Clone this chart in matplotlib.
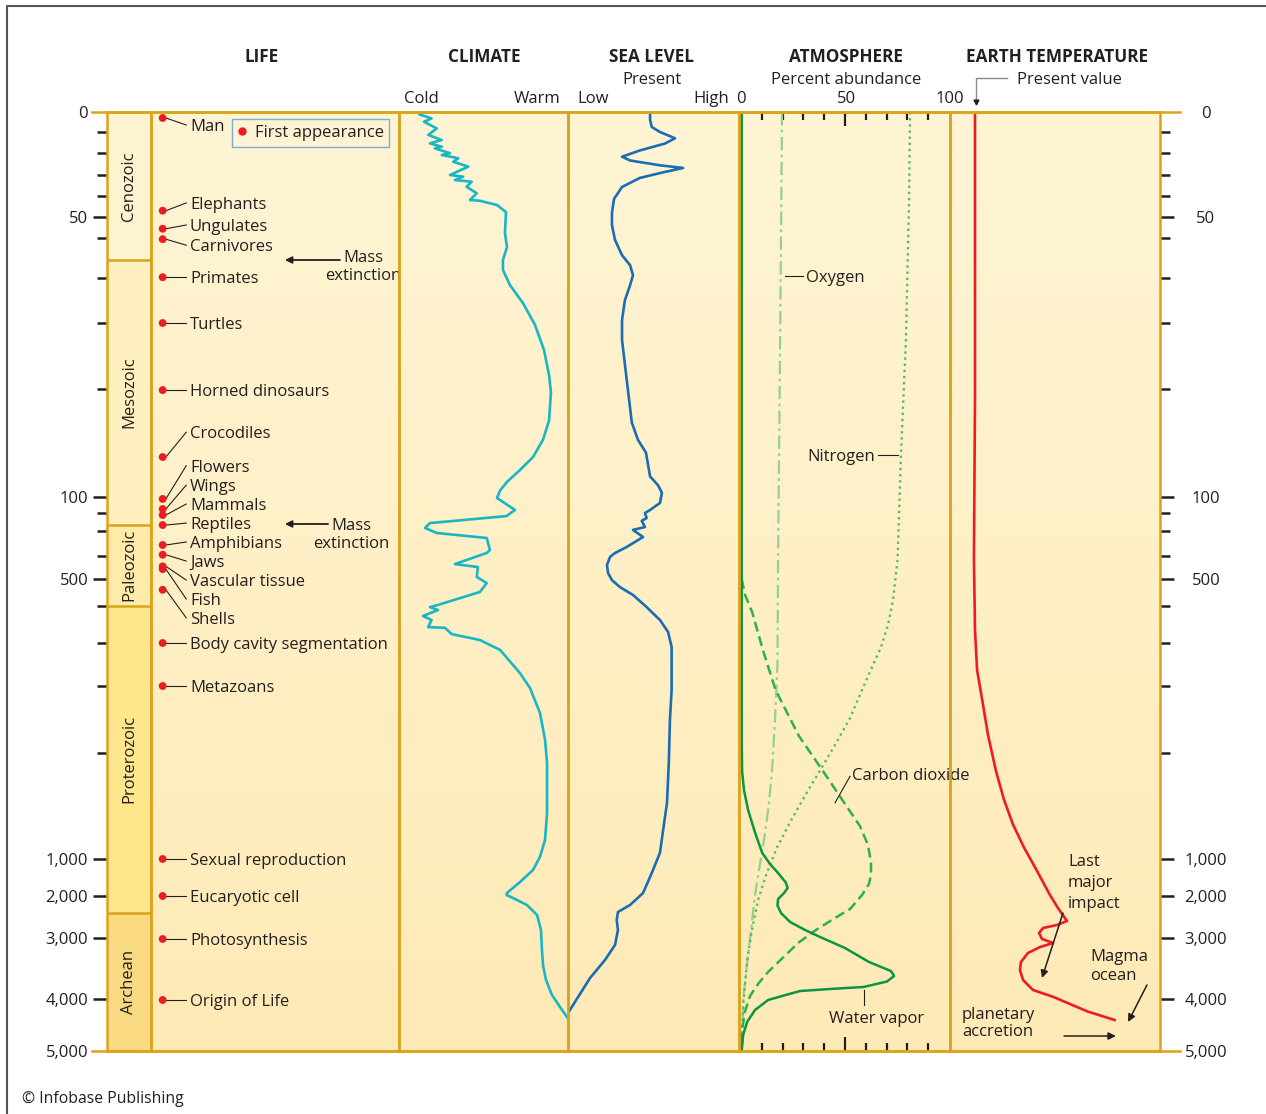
import matplotlib.pyplot as plt
import numpy as np
from matplotlib.lines import Line2D
import matplotlib.transforms as mtransforms

plt.rcParams['font.family'] = ['Open Sans', 'DejaVu Sans']

# ---- time axis (million years ago) ----
tick_ages = [0, 10, 20, 30, 40, 50, 60, 70, 80, 90, 100, 200, 300, 400, 500,
             600, 700, 800, 900, 1000, 2000, 3000, 4000, 5000]
labelled_ages = [0, 50, 100, 500, 1000, 2000, 3000, 4000, 5000]

# eras
era_names = ["Cenozoic", "Mesozoic", "Paleozoic", "Proterozoic", "Archean"]
era_start = [0, 65.5, 265, 600, 2400]
era_end = [65.5, 265, 600, 2400, 5000]

# life: first appearances
life_events = ["Man", "Elephants", "Ungulates", "Carnivores", "Primates", "Turtles",
               "Horned dinosaurs", "Crocodiles", "Flowers", "Wings", "Mammals",
               "Reptiles", "Amphibians", "Jaws", "Vascular tissue", "Fish", "Shells",
               "Body cavity segmentation", "Metazoans", "Sexual reproduction",
               "Eucaryotic cell", "Photosynthesis", "Origin of Life"]
life_age = [3, 47, 55.6, 60.3, 69.8, 80, 90.1, 96.3, 112, 175, 211, 267, 356, 395,
            445, 457, 540, 700, 800, 1000, 2000, 3016, 4019]
life_label_age = [6.5, 43.3, 53.8, 61.8, 69.8, 80, 90.1, 94, 97.1, 98.9, 144, 256,
                  344, 422, 504, 574, 632, 700, 800, 1000, 2000, 3016, 4019]
mass_extinction_age = [65.5, 261]

# climate (0 = cold, 100 = warm)
climate_age = [0, 1.2, 3.2, 4.9, 8.2, 11.4, 13.8, 15.4, 17, 17.8, 20.1, 20.9, 22.4, 24,
               26.2, 30, 30.8, 32.4, 33.2, 35.6, 38.7, 41.9, 42.3, 44.3, 47.6, 57.6,
               62.3, 65.5, 68, 71.6, 75.6, 80.3, 84.1, 87.9, 90.3, 92.9, 94.7, 96.3,
               97.5, 98.6, 99.4, 106, 181, 217, 256, 283, 308, 328, 376, 388, 435, 448,
               491, 515, 548, 596, 603, 611, 627, 638, 657, 659, 676, 692, 716, 770,
               803, 840, 880, 909, 957, 982, 998, 1297, 1622, 1919, 1973, 2071, 2214,
               2452, 2810, 3197, 3443, 3689, 3934, 4154, 4365]
climate_val = [14.4, 12, 19.3, 14.8, 22.3, 17.3, 25.3, 18.3, 25.3, 21.3, 30.2, 25.3,
               35.1, 32.1, 41, 30.2, 38, 33.1, 43, 40, 46, 42, 48, 58, 63.3, 62.7, 63.9,
               61.5, 61.5, 65.7, 73.4, 80.5, 85.8, 88.8, 89.9, 88.8, 85.2, 79.3, 71.6,
               63.9, 59.8, 58, 68.6, 63.7, 18.3, 15.4, 22.3, 51.9, 53.8, 51.9, 33.1,
               46.7, 46, 51.9, 47.9, 23.1, 18.3, 23.1, 14.2, 19.3, 17.2, 27.2, 31.2,
               47.9, 59.8, 71.6, 77.5, 83.4, 86.4, 87.6, 87.6, 86.4, 83.4, 79.3, 71.6,
               63.9, 63.7, 68.6, 75.7, 81.7, 84, 84.6, 85.2, 87, 90.5, 95.3, 99.8]

# sea level (0 = low, 100 = high)
sea_age = [0, 4, 7.5, 10, 13, 15.5, 18.8, 21.7, 23.4, 25.6, 26.8, 28.6, 31.4, 35.7,
           41.4, 48.1, 53.8, 60.5, 64.3, 66.8, 69.3, 71.6, 74.9, 79.3, 82.6, 93.1, 94.7,
           95.9, 97, 98.1, 98.9, 99.6, 137, 181, 200, 228, 243, 278, 294, 324, 364, 388,
           404, 439, 474, 504, 530, 559, 603, 638, 670, 709, 806, 851, 907, 947, 973,
           994, 1378, 1919, 2214, 2381, 2571, 2810, 3115, 3361, 3656, 4270]
sea_val = [48, 48, 49, 53.8, 62.6, 56.7, 42, 31.6, 36.3, 53.8, 67.3, 56.7, 42, 31.6,
           26.9, 25.7, 25.7, 27.5, 31.6, 36.3, 38, 36.3, 33.3, 31.6, 31.6, 37.3, 40.9,
           45.6, 46.8, 48, 52.6, 54.9, 53.8, 48, 45, 46, 43.1, 45, 38, 43.9, 34.3, 27.5,
           24.6, 22.8, 23.4, 25.7, 30.4, 38, 46, 53.8, 58.5, 60.6, 60.6, 59.6, 59,
           57.9, 55.6, 53.8, 49, 43.9, 36.3, 29.2, 28.5, 29.2, 27.5, 21.6, 12.9, 0]

# atmosphere, percent abundance
water_age = [0, 881, 917, 935, 954, 975, 994, 1135, 1378, 1635, 1784, 1919, 2071, 2226,
             2405, 2619, 2810, 2976, 3164, 3393, 3541, 3623, 3713, 3803, 3836, 3869,
             3951, 4019, 4212, 4442, 4692, 5000]
water_pct = [0.3, 0.3, 0.5, 1.4, 3.4, 6.7, 10.1, 13.9, 17.8, 21.5, 22.4, 20.7, 17.8,
             17.5, 19.2, 23.6, 30.8, 38, 50, 61.5, 72.1, 73.6, 70.2, 58.9, 42.8, 28.4,
             19.7, 13, 6.7, 2.9, 1, 0.3]
co2_age = [500, 559, 616, 718, 806, 875, 917, 951, 969, 987, 1108, 1432, 1676, 1973,
           2310, 2524, 2810, 3082, 3336, 3557, 3738, 3951, 4240, 4596, 5000]
co2_pct = [0.3, 1.9, 5.3, 10.6, 16.6, 27.9, 39.4, 51, 57.2, 61.1, 62.5, 62.5, 61.5,
           58.2, 52.4, 45.2, 36, 27.4, 19.7, 13, 8.5, 4.3, 1.9, 0.5, 0.3]
nitrogen_age = [0, 42, 82.6, 96.1, 413, 578, 651, 711, 767, 813, 848, 888, 917, 940,
                967, 991, 1486, 2095, 2810, 3361, 4038, 5000]
nitrogen_pct = [81.3, 80.8, 79.3, 76.9, 75.3, 73.1, 70.7, 67.2, 62, 57.2, 52.4, 45.2,
                37.8, 30.8, 23.1, 16.8, 11.7, 8.2, 5.2, 2.9, 1.2, 0]
oxygen_age = [0, 82.6, 413, 751, 851, 917, 954, 984, 1297, 1973, 2810, 3450, 4019, 5000]
oxygen_pct = [19.7, 18.8, 17.8, 17.5, 16.3, 14.9, 13, 10.9, 8.6, 6.7, 4.8, 2.8, 1, 0.3]

# earth temperature (relative)
temp_age = [0, 91, 413, 665, 763, 822, 873, 917, 944, 967, 989, 1297, 1973, 2286, 2595,
            2690, 2762, 2881, 3016, 3082, 3148, 3246, 3393, 3525, 3689, 3852, 3967,
            4096, 4240, 4404]
temp_val = [11.9, 11.9, 11.4, 11.9, 12.9, 15.4, 18.1, 21.9, 25.7, 29.9, 35.2, 41.2,
            47.6, 51.4, 55.7, 51, 44.3, 42.4, 43.8, 49.1, 42.9, 37.1, 33.8, 33.3, 34.8,
            39.5, 49.3, 57.1, 65.5, 78.4]

# ---- layout / style ----
W, H = 1266, 1114
TOP, BOT = 112, 1051
# vertical offset (px from top) of every tick on the distorted time scale
tick_pos = [0, 20, 41, 63, 84, 105, 126, 166, 211, 277, 385, 401, 419, 444, 467,
            494, 531, 574, 641, 747, 784, 826, 887, 939]

GOLD = '#DCA21A'
INK = '#231F20'
RED = '#EC1C24'
FS = 12
era_colors = ['#FEF3CF', '#FEF0BF', '#FEEBA9', '#FEE68C', '#F9D982']


def fwd(a):
    a = np.asarray(a, float)
    out = np.interp(a, tick_ages, tick_pos)
    out = np.where(a < 0, a * 2.0, out)
    return np.where(a > 5000, 939 + (a - 5000) * 0.052, out)


def inv(p):
    p = np.asarray(p, float)
    out = np.interp(p, tick_pos, tick_ages)
    out = np.where(p < 0, p / 2.0, out)
    return np.where(p > 939, 5000 + (p - 939) / 0.052, out)


def fx(px):
    return px / W


def fy(py):
    return 1 - py / H


fig = plt.figure(figsize=(W / 100, H / 100), dpi=100)


def panel(x0, x1, share=None):
    return fig.add_axes([fx(x0), fy(BOT), (x1 - x0) / W, (BOT - TOP) / H],
                        sharey=share)


# background gradient
bg = panel(151, 1160)
grad = np.linspace(0, 1, 256)[:, None]
c_top = np.array([254, 245, 213]) / 255
c_bot = np.array([254, 234, 182]) / 255
img = c_top[None, None, :] * (1 - grad[:, :, None]) + c_bot[None, None, :] * grad[:, :, None]
bg.imshow(img, extent=[0, 1, 0, 1], aspect='auto')
bg.set_xlim(0, 1)
bg.set_ylim(0, 1)
bg.axis('off')

ax_era = panel(107, 151)
ax_era.set_yscale('function', functions=(fwd, inv))
ax_era.set_ylim(5000, 0)
ax_life = panel(151, 399, ax_era)
ax_clim = panel(399, 568, ax_era)
ax_sea = panel(568, 739, ax_era)
ax_atm = panel(739, 950, ax_era)
ax_temp = panel(950, 1160, ax_era)

for ax in [ax_era, ax_life, ax_clim, ax_sea, ax_atm, ax_temp]:
    ax.set_facecolor('none')
    for s in ax.spines.values():
        s.set_color(GOLD)
        s.set_linewidth(1.8)
    ax.tick_params(axis='both', which='both', left=False, right=False, top=False,
                   bottom=False, labelleft=False, labelbottom=False)

# ---- era column ----
ax_era.set_xlim(0, 1)
for name, a0, a1, col in zip(era_names, era_start, era_end, era_colors):
    ax_era.axhspan(a0, a1, color=col, lw=0, zorder=0)
    if a1 < 5000:
        ax_era.axhline(a1, color=GOLD, lw=1.8)
    mid = inv((fwd(a0) + fwd(a1)) / 2)
    ax_era.text(0.5, float(mid), name, rotation=90, ha='center', va='center',
                fontsize=FS, color=INK)

minor_ages = [a for a in tick_ages if a not in labelled_ages]
tick_text = [f"{a:,}" for a in labelled_ages]
for ax, side in [(ax_era, 'left'), (ax_temp, 'right')]:
    ax.yaxis.set_major_locator(plt.FixedLocator(labelled_ages))
    ax.yaxis.set_minor_locator(plt.FixedLocator(minor_ages))
    ax.yaxis.set_ticks_position(side)
    ax.set_yticklabels(tick_text)
    ax.tick_params(axis='y', which='major', length=10, width=1.8, color=INK,
                   labelsize=FS, labelcolor=INK, direction='out',
                   left=(side == 'left'), right=(side == 'right'),
                   labelleft=(side == 'left'), labelright=(side == 'right'),
                   pad=3.5 if side == 'left' else 23)
    ax.tick_params(axis='y', which='minor', length=7.5, width=1.8, color=INK,
                   direction='out', left=(side == 'left'), right=(side == 'right'))
    for t in (ax.yaxis.get_major_ticks()[0], ax.yaxis.get_major_ticks()[-1]):
        t.tick1line.set_visible(False)
        t.tick2line.set_visible(False)
    if side == 'right':
        for lab in ax.get_yticklabels():
            lab.set_ha('center')

# ---- life ----
ax_life.set_xlim(0, 1)
ax_life.scatter([0.047] * len(life_age), life_age, s=32, color=RED, zorder=3,
                edgecolors='none')
for name, a, la in zip(life_events, life_age, life_label_age):
    ax_life.plot([0.06, 0.142], [a, la], color=INK, lw=0.8)
    ax_life.annotate(name, xy=(0.157, la), xytext=(0, -1.6), textcoords='offset points',
                     ha='left', va='center', fontsize=FS, color=INK)

leg = ax_life.legend(handles=[Line2D([0], [0], marker='o', ls='none', color=RED,
                                     markersize=5)],
                     labels=['First appearance'], loc='upper left',
                     bbox_to_anchor=(0.327, 0.9925), frameon=True, fancybox=False,
                     edgecolor='#5B9BD5', facecolor='none', fontsize=FS,
                     handlelength=0.5, handletextpad=0.5, borderpad=0.35,
                     borderaxespad=0)
leg.get_frame().set_linewidth(1.0)
for t in leg.get_texts():
    t.set_color(INK)

blend_life = mtransforms.blended_transform_factory(ax_life.transAxes, ax_life.transData)
for a, tail, head, tx, ty in [(mass_extinction_age[0], 0.762, 0.540, 0.855, 67.2),
                              (mass_extinction_age[1], 0.714, 0.540, 0.808, 315)]:
    ax_life.annotate('', xy=(head, a), xytext=(tail, a), xycoords=blend_life,
                     arrowprops=dict(arrowstyle='-|>', color=INK, lw=1.3,
                                     mutation_scale=10, shrinkA=0, shrinkB=0))
    ax_life.text(tx, ty, 'Mass\nextinction', ha='center', va='center',
                 fontsize=FS, color=INK, linespacing=1.2)

# ---- climate ----
ax_clim.set_xlim(0, 100)
ax_clim.plot(climate_val, climate_age, color='#1AB6C6', lw=1.9, solid_joinstyle='round')

# ---- sea level ----
ax_sea.set_xlim(0, 100)
ax_sea.plot(sea_val, sea_age, color='#1A6DB5', lw=1.9, solid_joinstyle='round')

# ---- atmosphere ----
ax_atm.set_xlim(-1, 100.5)
ax_atm.plot(oxygen_pct, oxygen_age, color='#93D092', lw=1.6, ls=(0, (6, 2, 1.2, 2)))
ax_atm.plot(nitrogen_pct, nitrogen_age, color='#5DBB5F', lw=1.7, ls=(0, (1, 1.6)))
ax_atm.plot(co2_pct, co2_age, color='#2EB04B', lw=1.8, ls=(0, (4, 2)))
ax_atm.plot(water_pct, water_age, color='#0B9444', lw=1.8, solid_joinstyle='round')
ax_atm.xaxis.set_major_locator(plt.FixedLocator([50]))
ax_atm.xaxis.set_minor_locator(plt.FixedLocator([10, 20, 30, 40, 60, 70, 80, 90]))
ax_atm.tick_params(axis='x', which='major', direction='in', length=10, width=1.6,
                   color=INK, top=True, bottom=True, labeltop=False, labelbottom=False)
ax_atm.tick_params(axis='x', which='minor', direction='in', length=6, width=1.6,
                   color=INK, top=True, bottom=True)
ax_atm.text(31.3, 70, 'Oxygen', ha='left', va='center', fontsize=FS, color=INK)
ax_atm.plot([21.2, 29.8], [69.5, 69.5], color=INK, lw=0.8)
ax_atm.text(64.4, 96.3, 'Nitrogen', ha='right', va='center', fontsize=FS, color=INK)
ax_atm.plot([65.9, 75.5], [96.1, 96.1], color=INK, lw=0.8)
ax_atm.text(53.4, 922, 'Carbon dioxide', ha='left', va='center', fontsize=FS,
            color=INK)
ax_atm.plot([45.2, 52.4], [947, 922], color=INK, lw=0.8)
ax_atm.text(42.3, 4380, 'Water vapor', ha='left', va='center', fontsize=FS, color=INK)
ax_atm.plot([59.1, 59.1], [3852, 4115], color=INK, lw=0.8)

# ---- earth temperature ----
ax_temp.set_xlim(0, 100)
ax_temp.plot(temp_val, temp_age, color=RED, lw=1.9, solid_joinstyle='round')
arrow = dict(arrowstyle='-|>', color=INK, lw=1.1, mutation_scale=11, shrinkA=0,
             shrinkB=0)
ax_temp.text(56.2, 1650, 'Last\nmajor\nimpact', ha='left', va='center', fontsize=FS,
             color=INK, linespacing=1.42)
ax_temp.annotate('', xy=(43.8, 3656), xytext=(53.8, 2405), arrowprops=arrow)
ax_temp.text(66.7, 3470, 'Magma\nocean', ha='left', va='center', fontsize=FS,
             color=INK, linespacing=1.25)
ax_temp.annotate('', xy=(84.8, 4442), xytext=(93.8, 3770), arrowprops=arrow)
ax_temp.text(5.7, 4470, 'planetary\naccretion', ha='left', va='center', fontsize=FS,
             color=INK, linespacing=1.05)
ax_temp.annotate('', xy=(79, 4712), xytext=(54.3, 4712), arrowprops=arrow)

# ---- headers ----
for px, txt in [(262, 'LIFE'), (484, 'CLIMATE'), (652, 'SEA LEVEL'),
                (846, 'ATMOSPHERE'), (1057, 'EARTH TEMPERATURE')]:
    fig.text(fx(px), fy(57), txt, ha='center', va='center', fontsize=12.3,
             fontweight='bold', color=INK)
for px, py, txt in [(421, 99, 'Cold'), (537, 99, 'Warm'), (593, 99, 'Low'),
                    (652, 80, 'Present'), (711, 99, 'High'), (741, 99, '0'),
                    (846, 80, 'Percent abundance'), (846, 99, '50'), (950, 99, '100')]:
    fig.text(fx(px), fy(py), txt, ha='center', va='center', fontsize=FS, color=INK)
fig.text(fx(1017), fy(80), 'Present value', ha='left', va='center', fontsize=FS,
         color=INK)
fig.add_artist(Line2D([fx(1007), fx(976), fx(976)], [fy(78), fy(78), fy(100)],
                      color='#8A8A8A', lw=1.0))
fig.add_artist(Line2D([fx(976)], [fy(102)], marker='v', color=INK, markersize=3.5,
                      ls='none'))

# full-width top and bottom rules
for py in (TOP, BOT):
    fig.add_artist(Line2D([fx(92), fx(1180)], [fy(py), fy(py)], color=GOLD, lw=1.8))

# outer frame
fig.add_artist(Line2D([fx(7), fx(7), fx(1266)], [fy(1114), fy(6), fy(6)],
                      color='#555555', lw=1.5))

fig.text(fx(22), fy(1099), '\u00a9 Infobase Publishing', ha='left', va='center',
         fontsize=11.3, color=INK)

fig.savefig('out.png', dpi=100)
